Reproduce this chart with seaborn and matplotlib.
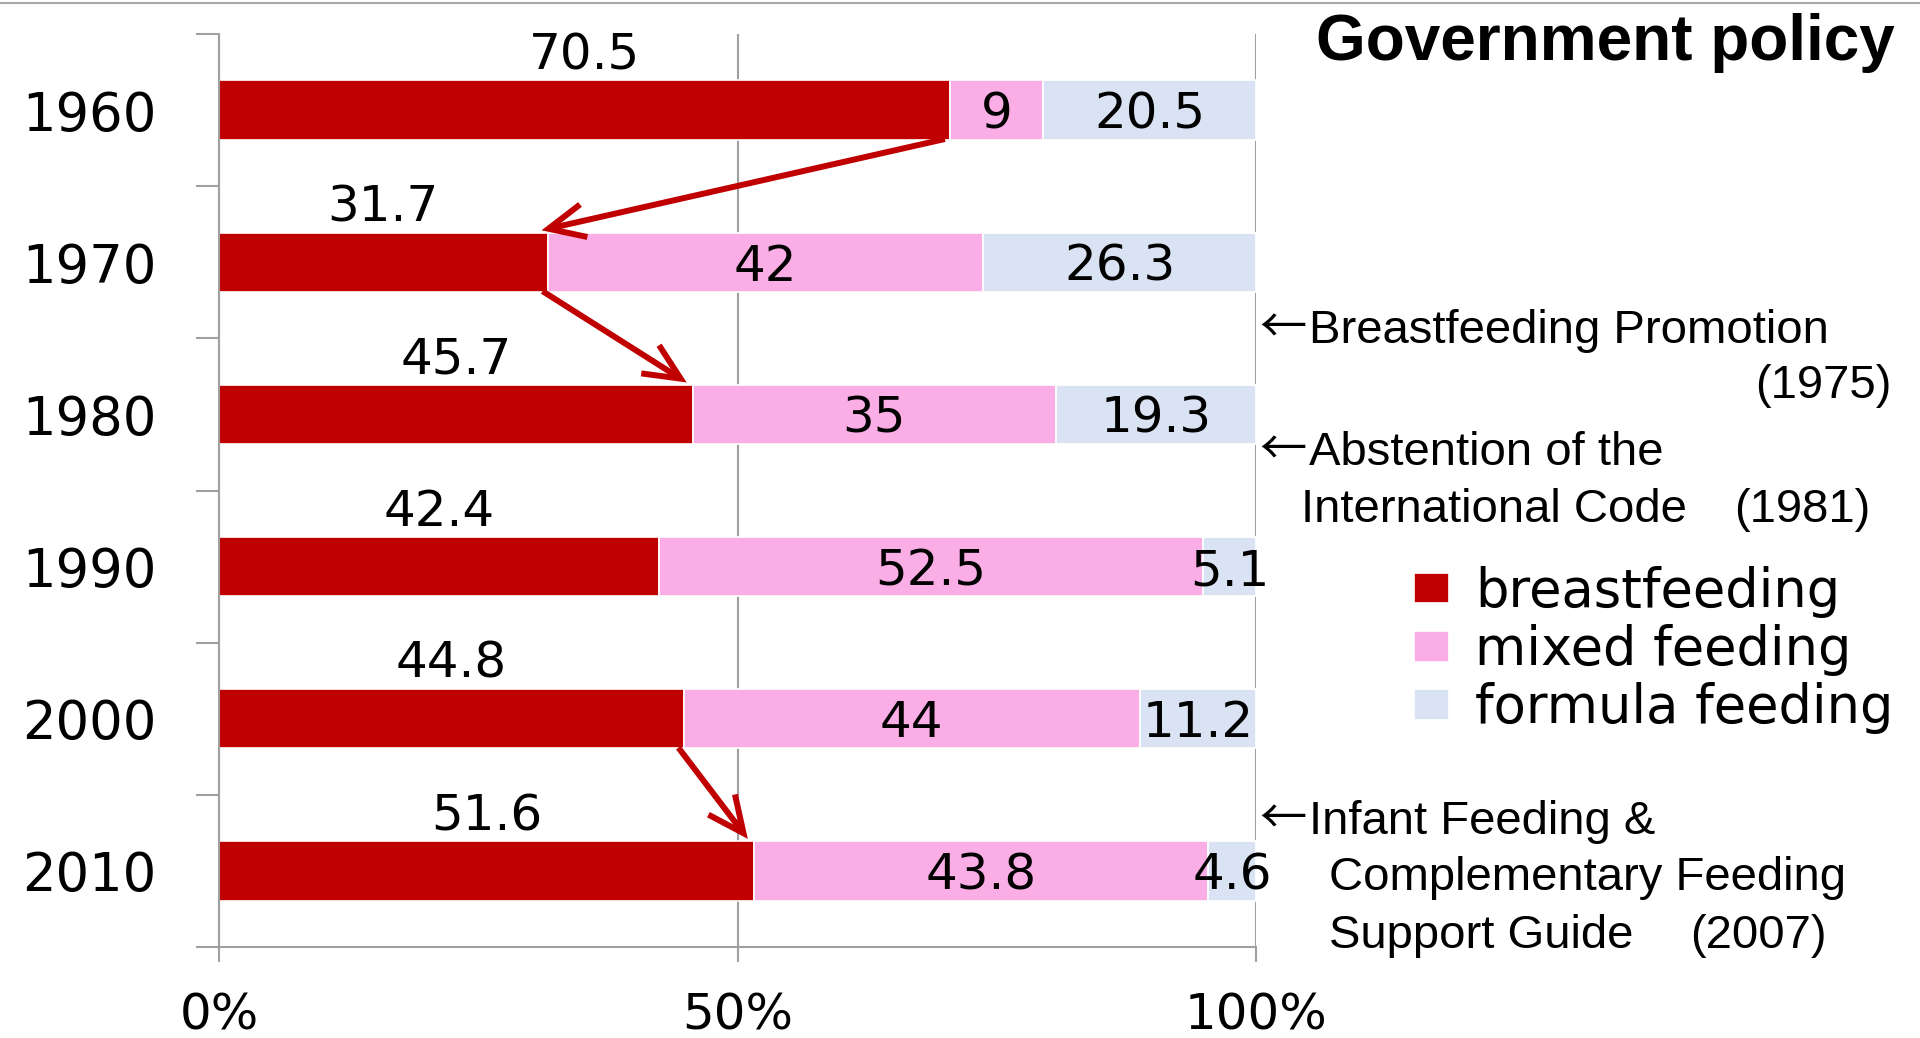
import matplotlib
matplotlib.use('Agg')
import matplotlib.pyplot as plt
import seaborn as sns
import pandas as pd
import numpy as np
from matplotlib.lines import Line2D

# ---------------- data ----------------
years = ['1960', '1970', '1980', '1990', '2000', '2010']
breastfeeding = [70.5, 31.7, 45.7, 42.4, 44.8, 51.6]
mixed_feeding = [9, 42, 35, 52.5, 44, 43.8]
formula_feeding = [20.5, 26.3, 19.3, 5.1, 11.2, 4.6]
series_names = ['breastfeeding', 'mixed feeding', 'formula feeding']
x_ticks = [0, 50, 100]
x_tick_labels = ['0%', '50%', '100%']
title = 'Government policy'
arrow_pairs = [(0, 1), (1, 2), (4, 5)]

# ---------------- style ----------------
RED = '#C00000'
PINK = '#FBADE6'
BLUE = '#DAE3F3'
GREY = '#A0A0A0'
colors = [RED, PINK, BLUE]

sns.set_theme(style='white')
plt.rcParams['font.family'] = ['DejaVu Sans']
plt.rcParams['text.color'] = 'black'
plt.rcParams['xtick.labelcolor'] = 'black'
plt.rcParams['ytick.labelcolor'] = 'black'
ARIAL = ['Liberation Sans', 'DejaVu Sans']
CJK = ['Noto Sans CJK JP', 'DejaVu Sans']

W, H = 1920, 1038
fig = plt.figure(figsize=(W / 100, H / 100), dpi=100)
ax = fig.add_axes([219 / W, 1 - 947 / H, (1256 - 219) / W, (947 - 34) / H])

df = pd.DataFrame({'year': years, 'bf': breastfeeding, 'mx': mixed_feeding, 'ff': formula_feeding})

left = np.zeros(len(years))
for col, name, color in zip(['bf', 'mx', 'ff'], series_names, colors):
    sns.barplot(data=df, x=col, y='year', order=years, orient='h', color=color,
                width=0.39, left=left, edgecolor='white', linewidth=1.2,
                label=name, saturation=1, ax=ax)
    left = left + df[col].values

ax.set_xlim(0, 100)
ax.set_ylim(len(years) - 0.5, -0.5)
ax.set_xlabel('')
ax.set_ylabel('')

# axes styling
for s in ['top', 'right']:
    ax.spines[s].set_visible(False)
for s in ['left', 'bottom']:
    ax.spines[s].set_color(GREY)
    ax.spines[s].set_linewidth(1.5)
ax.set_xticks(x_ticks)
ax.set_xticklabels(x_tick_labels)
ax.xaxis.grid(True, color=GREY, linewidth=1.5)
ax.yaxis.grid(False)
ax.set_axisbelow(True)
ax.set_yticks(np.arange(-0.5, len(years) + 0.5, 1), minor=True)
ax.tick_params(axis='y', which='major', length=0, pad=45, labelsize=38, labelcolor='black')
ax.tick_params(axis='y', which='minor', length=16.5, width=1.5, color=GREY, direction='out', left=True)
ax.tick_params(axis='x', which='major', length=11, width=1.5, color=GREY, direction='out',
               pad=21, labelsize=36, labelcolor='black', bottom=True)

# data labels
LBL = 36
for i in range(len(years)):
    bf, mx, ff = breastfeeding[i], mixed_feeding[i], formula_feeding[i]
    ax.text(bf / 2, i - 0.36, f'{bf:g}', ha='center', va='center', fontsize=LBL, color='black')
    ax.text(bf + mx / 2, i + 0.03, f'{mx:g}', ha='center', va='center', fontsize=LBL, color='black')
    ax.text(bf + mx + ff / 2, i + 0.03, f'{ff:g}', ha='center', va='center', fontsize=LBL, color='black')

# red arrows between breastfeeding bar ends
for a, b in arrow_pairs:
    ax.annotate('', xy=(breastfeeding[b] - 0.6, b - 0.21), xytext=(breastfeeding[a] - 0.5, a + 0.19),
                arrowprops=dict(arrowstyle='->,head_length=1.3,head_width=0.6', color=RED,
                                lw=4.3, mutation_scale=20, shrinkA=0, shrinkB=0,
                                joinstyle='miter', capstyle='butt'))

# legend
handles, labels = ax.get_legend_handles_labels()
leg = ax.legend(handles, labels, loc='center left', bbox_to_anchor=(1414 / W, 1 - 650 / H),
                bbox_transform=fig.transFigure, frameon=False, fontsize=38,
                handlelength=0.66, handleheight=0.52, handletextpad=0.5,
                labelspacing=0.12, borderpad=0, borderaxespad=0)
for t in leg.get_texts():
    t.set_color('black')

# title
fig.text(1895 / W, 1 - 60 / H, title, ha='right', va='baseline', fontsize=46,
         fontweight='bold', family=ARIAL, color='black')

# policy annotations
def ftxt(x, y, s, ha='left'):
    fig.text(x / W, 1 - y / H, s, ha=ha, va='baseline', fontsize=34, family=ARIAL, color='black')

def farrow(x, y):
    fig.text(x / W, 1 - y / H, '\u2190', ha='left', va='baseline', fontsize=34, family=CJK, color='black')

farrow(1259, 343)
ftxt(1309, 343, 'Breastfeeding Promotion')
ftxt(1891, 398, '(1975)', ha='right')
farrow(1259, 465)
ftxt(1309, 465, 'Abstention of the')
ftxt(1301, 522, 'International Code')
ftxt(1870, 522, '(1981)', ha='right')
farrow(1259, 834)
ftxt(1309, 834, 'Infant Feeding &')
ftxt(1329, 890, 'Complementary Feeding')
ftxt(1329, 948, 'Support Guide')
ftxt(1827, 948, '(2007)', ha='right')

# thin border line at top of slide
fig.add_artist(Line2D([0, 1], [1 - 3 / H, 1 - 3 / H], transform=fig.transFigure,
                      color='#AAAAAA', linewidth=1.5))

fig.savefig('out.png', dpi=100)
